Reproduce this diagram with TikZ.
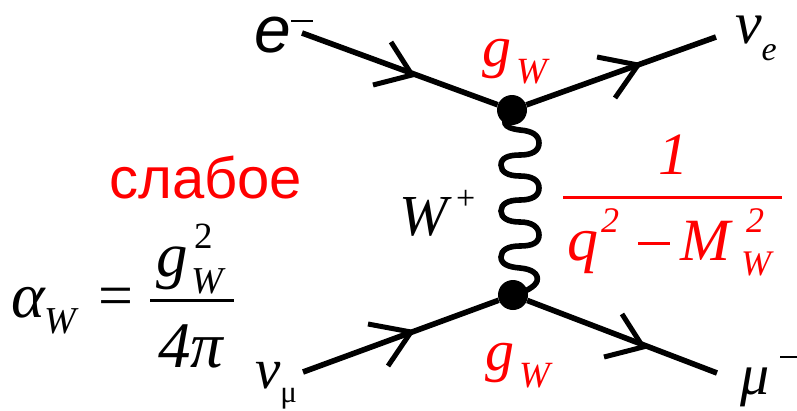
\documentclass[tikz,border=0pt]{standalone}
\usepackage{fontspec}
\setmainfont{Liberation Serif}
\setsansfont{Liberation Sans}
\newcommand{\fsz}[1]{\fontsize{#1}{#1}\selectfont}
\newcommand{\low}[2]{\raisebox{-#1pt}{#2}}
\tikzset{
  lab/.style={inner sep=0pt,outer sep=0pt,anchor=base west,font=\itshape},
  red lab/.style={lab,text=red},
  line/.style={line width=5.6pt,line cap=butt},
  barb/.style={line width=5pt,line cap=butt,line join=miter},
  wave/.style={line width=5.6pt,line cap=round},
  bar/.style={line width=3pt},
  thinbar/.style={line width=2pt},
  vertex/.style={circle,fill=black,minimum size=30pt,inner sep=0pt}
}
\begin{document}
\begin{tikzpicture}[x=1pt,y=-1pt]
\useasboundingbox (0,0) rectangle (797,410);
% vertices
\node[vertex] (v1) at (512,110) {};
\node[vertex] (v2) at (513,295) {};
% free ends
\coordinate (a) at (302,33);
\coordinate (b) at (716,37);
\coordinate (c) at (303,372);
\coordinate (d) at (717,373);
\coordinate (at1) at (412,75);
\coordinate (at2) at (638,65);
\coordinate (at3) at (411,332);
\coordinate (at4) at (643,347);
% fermions
\draw[line] (a) -- (v1);
\draw[line] (v1) -- (b);
\draw[line] (c) -- (v2);
\draw[line] (v2) -- (d);
% arrow heads
\draw[barb] (391,42) -- (at1) -- (373,85);
\draw[barb] (597,57) -- (at2) -- (615,98);
\draw[barb] (368,324) -- (at3) -- (388,366);
\draw[barb] (604,357) -- (at4) -- (622,314);
% boson
\draw[wave] (v1.center) .. controls (500,122) and (503,128) .. (520,130)
  .. controls (532,131) and (539,135) .. (539,143)
  .. controls (539,151) and (532,155) .. (520,155)
  .. controls (508,155) and (501,158) .. (501,165)
  .. controls (501,172) and (508,176) .. (520,176)
  .. controls (532,176) and (539,180) .. (539,188)
  .. controls (539,196) and (532,200) .. (520,200)
  .. controls (508,200) and (501,204) .. (501,211)
  .. controls (501,218) and (508,222) .. (520,222)
  .. controls (532,222) and (539,227) .. (539,235)
  .. controls (539,243) and (532,246) .. (520,246)
  .. controls (508,246) and (501,250) .. (501,257)
  .. controls (501,264) and (508,267) .. (520,268)
  .. controls (532,269) and (539,274) .. (537,281)
  .. controls (535,287) and (525,292) .. (v2.center);
% labels
\node[lab,font=\sffamily\itshape\fsz{66}] (e) at (254,52) {e};
\draw[thinbar] (291,21) -- (313,21);
\node[lab,font=\itshape\fsz{60}] (nue) at (735,43) {v\low{17}{\fsz{34}e}};
\node[lab,font=\itshape\fsz{57}] (numu) at (255,388) {v\low{14}{\fsz{31}\upshape μ}};
\node[lab,font=\itshape\fsz{58}] (mu) at (740,394) {μ};
\draw[thinbar] (780,357) -- (797,357);
\node[red lab,font=\itshape\fsz{58}] (g1) at (482,66) {g\kern5pt\low{17}{\fsz{37}W}};
\node[red lab,font=\itshape\fsz{58}] (g2) at (485,370) {g\kern5pt\low{17}{\fsz{37}W}};
\node[inner sep=0pt,anchor=base west,text=red,font=\sffamily\fsz{58}] (weak) at (109,198) {слабое};
\node[lab,font=\itshape\fsz{58}] (W) at (399,235) {W};
\node[inner sep=0pt,anchor=base west,font=\fsz{34}] (plus) at (456,209) {+};
% propagator
\node[red lab,font=\itshape\fsz{60}] (one) at (658,174) {1};
\draw[bar,red] (563,197) -- (782,197);
\node[red lab,font=\itshape\fsz{62}] (q) at (567,260) {q};
\node[inner sep=0pt,anchor=base west,text=red,font=\itshape\fsz{36}] (qs) at (601,232) {2};
\draw[bar,red] (638,243) -- (670,243);
\node[red lab,font=\itshape\fsz{60}] (M) at (680,260) {M};
\node[inner sep=0pt,anchor=base west,text=red,font=\itshape\fsz{36}] (Ms) at (746,232) {2};
\node[red lab,font=\itshape\fsz{36}] (Mw) at (741,275) {W};
% coupling
\node[lab,font=\itshape\fsz{64}] (alpha) at (12,317) {α};
\node[lab,font=\itshape\fsz{38}] (aw) at (44,333) {W};
\node[inner sep=0pt,anchor=base west,font=\fsz{62}] (eq) at (98,316) {=};
\draw[bar] (150,300) -- (234,300);
\node[lab,font=\itshape\fsz{63}] (g) at (156,276) {g};
\node[inner sep=0pt,anchor=base west,font=\fsz{37}] (gs) at (194,248) {2};
\node[lab,font=\itshape\fsz{38}] (gw) at (191,293) {W};
\node[lab,font=\itshape\fsz{65}] (fp) at (158,367) {4π};
\end{tikzpicture}
\end{document}
